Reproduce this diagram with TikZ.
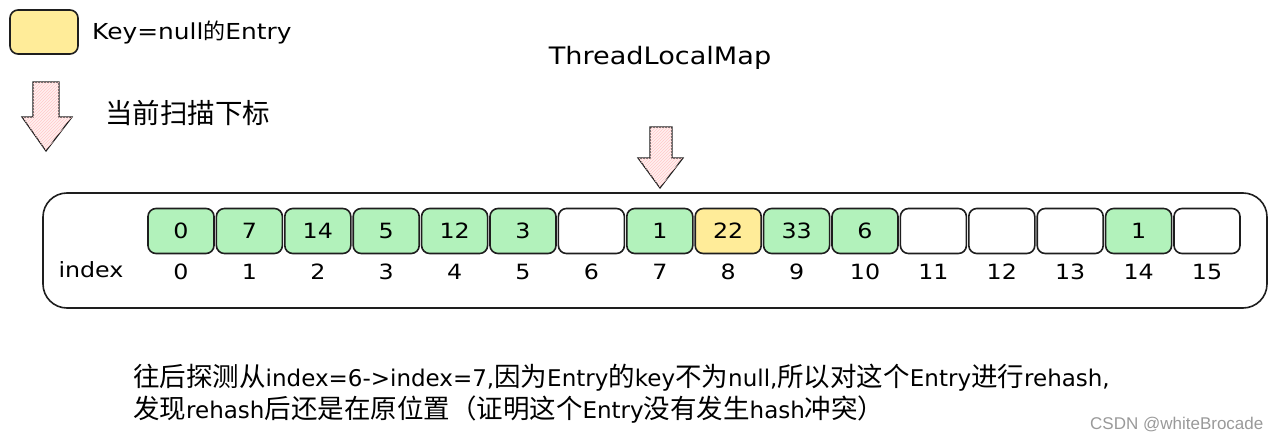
\documentclass[tikz,border=0pt]{standalone}
\usepackage{fontspec}
\setmainfont[FakeStretch=1.13]{DejaVu Sans}
\newfontfamily\plainlat{DejaVu Sans}
\newfontfamily\cjkfont{Noto Sans CJK SC}
\newfontfamily\wmfont{Liberation Sans}
\newcommand\zhf[1]{{\cjkfont #1}}
\newcommand\zhb[1]{{\cjkfont\fontsize{26.5}{26.5}\selectfont #1}}
\usetikzlibrary{patterns}
\definecolor{strokec}{HTML}{1E1E1E}
\definecolor{greenc}{HTML}{B2F2BB}
\definecolor{yellowc}{HTML}{FFEC99}
\definecolor{pinkc}{HTML}{FFC9C9}
\definecolor{pinkbg}{HTML}{FFF0F0}
\tikzset{
  cellbox/.style={draw=strokec, line width=1.6pt, rounded corners=8pt, minimum width=66pt, minimum height=45pt, inner sep=0pt, font=\fontsize{21}{21}\selectfont},
  greencell/.style={cellbox, fill=greenc},
  yellowcell/.style={cellbox, fill=yellowc},
  emptycell/.style={cellbox, fill=white},
  idxlabel/.style={font=\fontsize{21}{21}\selectfont, inner sep=0pt},
  hatcharrow/.style={draw=strokec, line width=1.2pt, fill=pinkbg, postaction={pattern=north east lines, pattern color=pinkc}},
  plaintext/.style={inner sep=0pt, anchor=west},
  notetext/.style={plaintext, font=\plainlat\fontsize{23}{23}\selectfont},
}
\begin{document}
\begin{tikzpicture}[x=1pt, y=-1pt]
\useasboundingbox (0,0) rectangle (1277,441);
% legend
\node[draw=strokec, line width=1.6pt, fill=yellowc, rounded corners=8pt, minimum width=68pt, minimum height=44pt, inner sep=0pt] (legbox) at (44,32) {};
\node[plaintext, font=\fontsize{22}{22}\selectfont] (legtext) at (92,33) {Key=null\zhf{的}Entry};
\path[hatcharrow] (33,82) -- (59,82) -- (59,117) -- (72,117) -- (46,151) -- (22,117) -- (33,117) -- cycle;
\node[plaintext, font=\fontsize{27.5}{27.5}\selectfont] (legscan) at (105,113) {\zhf{当前扫描下标}};
% title
\node[inner sep=0pt, font=\fontsize{24}{24}\selectfont] (title) at (660,58) {ThreadLocalMap};
% pointer arrow
\path[hatcharrow] (650,127) -- (672,127) -- (672,158) -- (683,158) -- (660,188) -- (638,158) -- (650,158) -- cycle;
% container
\node[draw=strokec, line width=1.6pt, rounded corners=24pt, minimum width=1224pt, minimum height=115pt, inner sep=0pt] (map) at (655,250.5) {};
\node[idxlabel] (idxword) at (91,270) {index};
% cells
\foreach \i/\v/\s in {0/0/greencell,1/7/greencell,2/14/greencell,3/5/greencell,4/12/greencell,5/3/greencell,6//emptycell,7/1/greencell,8/22/yellowcell,9/33/greencell,10/6/greencell,11//emptycell,12//emptycell,13//emptycell,14/1/greencell,15//emptycell}{
  \node[\s] (c\i) at ({181+68.4*\i},231) {\v};
  \node[idxlabel] (n\i) at ({181+68.4*\i},272) {\i};
}
% explanation
\node[notetext] (line1) at (133,378) {\zhb{往后探测从}index=6->index=7,\zhb{因为}Entry\zhb{的}key\zhb{不为}null,\zhb{所以对这个}Entry\zhb{进行}rehash,};
\node[notetext] (line2) at (133,410) {\zhb{发现}rehash\zhb{后还是在原位置（证明这个}Entry\zhb{没有发生}hash\zhb{冲突）}};
\node[plaintext, font=\fontsize{17}{17}\selectfont\wmfont, text=black!40] (mark) at (1090,425) {CSDN @whiteBrocade};
\end{tikzpicture}
\end{document}
